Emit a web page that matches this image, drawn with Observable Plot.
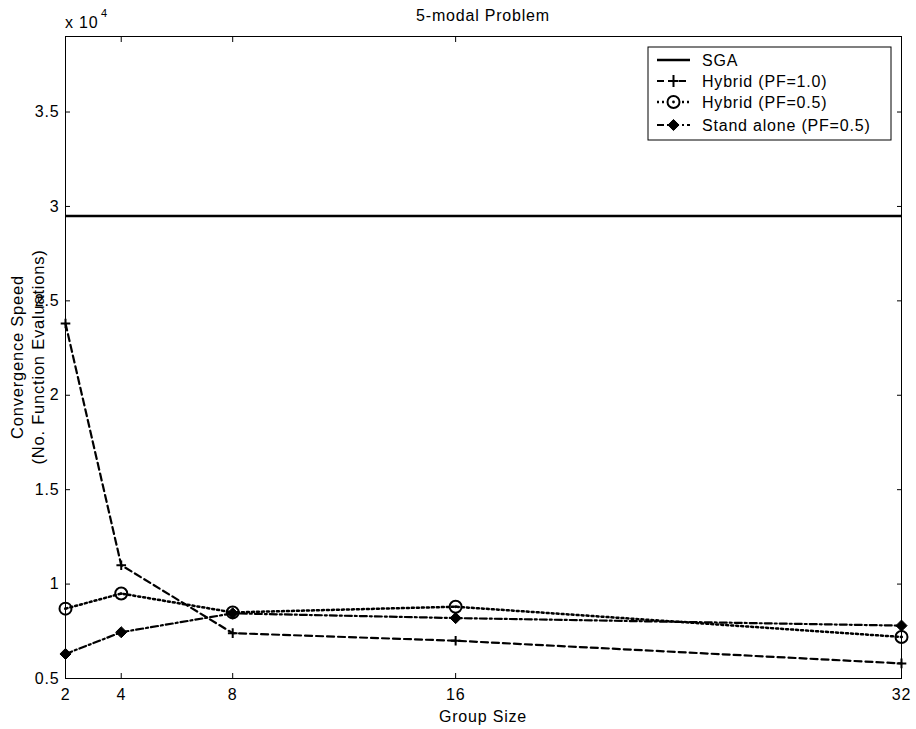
<!DOCTYPE html>
<html>
<head>
<meta charset="utf-8">
<script src="https://cdn.jsdelivr.net/npm/d3@7"></script>
<script src="https://cdn.jsdelivr.net/npm/@observablehq/plot@0.6"></script>
<style>
  body { margin: 0; background: #fff; }
  #chart svg { font-family: "Liberation Sans", Arial, Helvetica, sans-serif; }
  #chart svg text { letter-spacing: 0.8px; }
</style>
</head>
<body>
<div id="chart"></div>
<script>
// Convergence speed, in units of 10^4 function evaluations
const groupSizes = [2, 4, 8, 16, 32];
const sgaEvaluations = 2.95;
const hybridPF10 = [2.38, 1.10, 0.74, 0.70, 0.58];
const hybridPF05 = [0.87, 0.95, 0.85, 0.88, 0.72];
const standAlonePF05 = [0.63, 0.745, 0.845, 0.82, 0.78];
const yTicks = [0.5, 1, 1.5, 2, 2.5, 3, 3.5];
const seriesNames = ["SGA", "Hybrid (PF=1.0)", "Hybrid (PF=0.5)", "Stand alone (PF=0.5)"];

const rows = (values) => groupSizes.map((g, i) => ({g, v: values[i]}));

const dashed = "7,4";
const dotted = "2,3";
const dashDot = "7,3,2,3";

const W = 916, H = 729;
const M = {top: 36, right: 15, bottom: 51, left: 65};

const chart = Plot.plot({
  width: W,
  height: H,
  marginLeft: M.left,
  marginRight: M.right,
  marginTop: M.top,
  marginBottom: M.bottom,
  style: {fontFamily: "Liberation Sans, Arial, sans-serif", fontSize: "16px", background: "white", color: "black"},
  x: {domain: [2, 32], label: null},
  y: {domain: [0.5, 3.9], label: null},
  marks: [
    Plot.frame({stroke: "black", strokeWidth: 1}),
    Plot.axisX({anchor: "bottom", ticks: groupSizes, tickSize: -5, tickPadding: 15, tickFormat: d => d, label: null, fontSize: 16}),
    Plot.axisX({anchor: "top", ticks: groupSizes, tickSize: -5, tickFormat: () => "", label: null}),
    Plot.axisY({anchor: "left", ticks: yTicks, tickSize: -5, tickPadding: 11, tickFormat: d => d, label: null, fontSize: 16}),
    Plot.axisY({anchor: "right", ticks: yTicks, tickSize: -5, tickFormat: () => "", label: null}),

    // SGA baseline
    Plot.ruleY([sgaEvaluations], {stroke: "black", strokeWidth: 2.5}),

    // Hybrid (PF=1.0)
    Plot.line(rows(hybridPF10), {x: "g", y: "v", stroke: "black", strokeWidth: 2.2, strokeDasharray: dashed}),
    Plot.dot(rows(hybridPF10), {x: "g", y: "v", symbol: "plus", r: 3.2, stroke: "black", strokeWidth: 2, fill: "none"}),

    // Hybrid (PF=0.5)
    Plot.line(rows(hybridPF05), {x: "g", y: "v", stroke: "black", strokeWidth: 2.5, strokeDasharray: dotted}),
    Plot.dot(rows(hybridPF05), {x: "g", y: "v", symbol: "circle", r: 6, stroke: "black", strokeWidth: 2, fill: "none"}),
    Plot.dot(rows(hybridPF05), {x: "g", y: "v", r: 1.4, fill: "black"}),

    // Stand alone (PF=0.5)
    Plot.line(rows(standAlonePF05), {x: "g", y: "v", stroke: "black", strokeWidth: 2.2, strokeDasharray: dashDot}),
    Plot.dot(rows(standAlonePF05), {x: "g", y: "v", symbol: "diamond2", r: 5, fill: "black", stroke: "black", strokeWidth: 1})
  ]
});

document.getElementById("chart").appendChild(chart);

const svg = d3.select(chart);
const midX = (M.left + W - M.right) / 2;
const midY = (M.top + H - M.bottom) / 2;

// Title, axis labels and exponent
const addText = (str, x, y, size, anchor = "middle", rotate = 0) =>
  svg.append("text")
    .attr("transform", `translate(${x},${y})` + (rotate ? ` rotate(${rotate})` : ""))
    .attr("text-anchor", anchor)
    .attr("dy", "0.35em")
    .attr("font-size", size)
    .attr("fill", "black")
    .text(str);

addText("5-modal Problem", midX, 15, 16);
addText("Group Size", midX, 716, 16);
addText("Convergence Speed", 17, midY, 16.5, "middle", -90);
addText("(No. Function Evaluations)", 38, midY, 16.5, "middle", -90);
addText("x 10", M.left, 22, 16, "start");
addText("4", M.left + 36, 13, 11, "start");

// Legend box in the upper right of the axes
const legend = svg.append("g").attr("transform", "translate(648,47)");
legend.append("rect")
  .attr("width", 243).attr("height", 93)
  .attr("fill", "white").attr("stroke", "black").attr("stroke-width", 1);

const legendStyles = [
  {dash: null, width: 2.5, marker: null},
  {dash: dashed, width: 2.2, marker: "plus"},
  {dash: dotted, width: 2.5, marker: "circle"},
  {dash: dashDot, width: 2.2, marker: "diamond"}
];
const rowY = [13, 34, 55, 78];

seriesNames.forEach((name, i) => {
  const st = legendStyles[i];
  const g = legend.append("g").attr("transform", `translate(0,${rowY[i]})`);
  g.append("line")
    .attr("x1", 9).attr("x2", 42).attr("y1", 0).attr("y2", 0)
    .attr("stroke", "black").attr("stroke-width", st.width)
    .attr("stroke-dasharray", st.dash);
  if (st.marker === "plus") {
    g.append("path").attr("d", "M-5,0H5M0,-6V6")
      .attr("transform", "translate(25.5,0)").attr("fill", "none")
      .attr("stroke", "black").attr("stroke-width", 2);
  } else if (st.marker === "circle") {
    g.append("circle").attr("cx", 25.5).attr("r", 6).attr("fill", "white")
      .attr("stroke", "black").attr("stroke-width", 2);
    g.append("circle").attr("cx", 25.5).attr("r", 1.4).attr("fill", "black");
  } else if (st.marker === "diamond") {
    g.append("path").attr("d", d3.symbol(d3.symbolDiamond2, Math.PI * 25)())
      .attr("transform", "translate(25.5,0)").attr("fill", "black")
      .attr("stroke", "black").attr("stroke-width", 1);
  }
  g.append("text")
    .attr("x", 54).attr("y", 0).attr("dy", "0.35em")
    .attr("text-anchor", "start")
    .attr("font-size", 16).attr("fill", "black")
    .text(name);
});
</script>
</body>
</html>
